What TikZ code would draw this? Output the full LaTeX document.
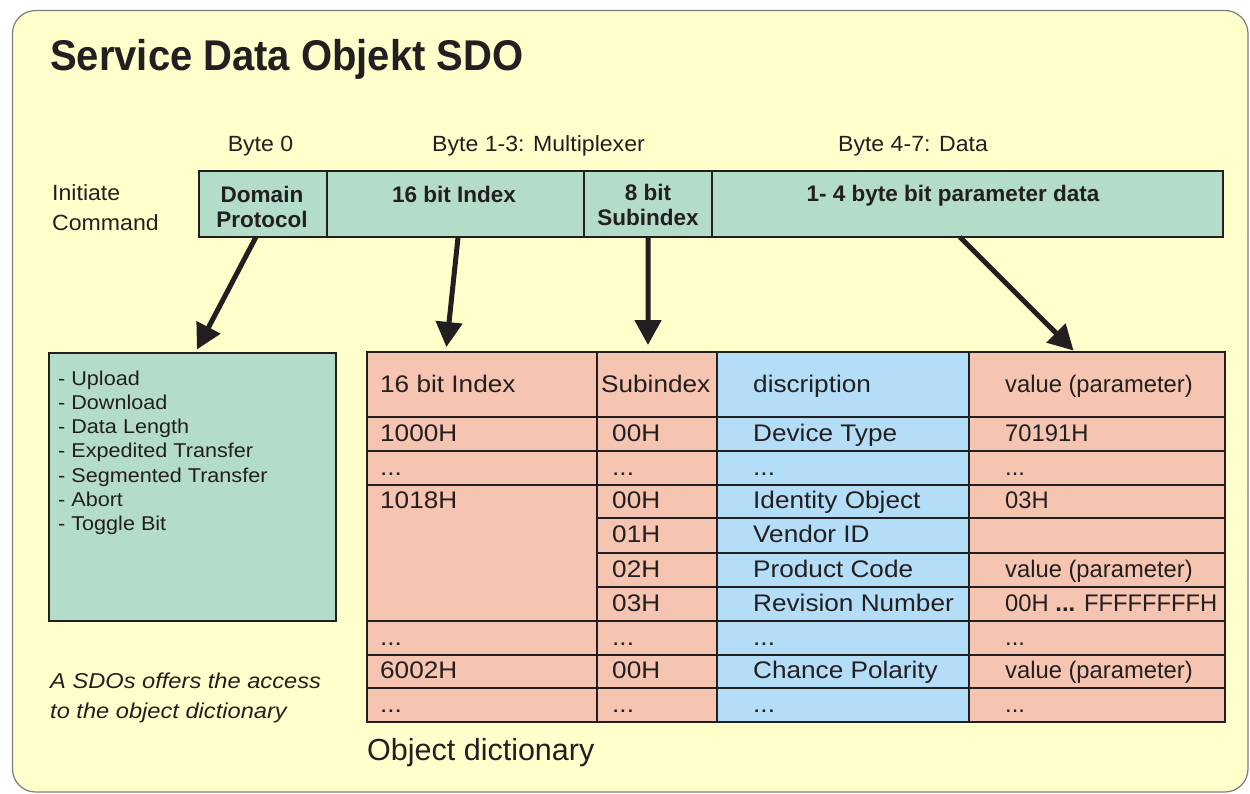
\documentclass[tikz,border=0pt]{standalone}
\usepackage{fontspec}
\setmainfont{Liberation Sans}
\newfontfamily\titlefont[FakeStretch=0.93]{Liberation Sans}
\newfontfamily\widefont[FakeStretch=1.09]{Liberation Sans}
\newfontfamily\valfont[FakeStretch=0.99]{Liberation Sans}
\newfontfamily\lblfont[FakeStretch=1.05]{Liberation Sans}
\newfontfamily\itemfont[FakeStretch=1.08]{Liberation Sans}
\newfontfamily\notefont[FakeStretch=1.1]{Liberation Sans}
\usetikzlibrary{arrows.meta,calc}

\definecolor{paper}{RGB}{255,255,204}
\definecolor{frame}{RGB}{125,125,125}
\definecolor{ink}{RGB}{35,31,32}
\definecolor{mint}{RGB}{179,221,201}
\definecolor{salmon}{RGB}{246,197,177}
\definecolor{sky}{RGB}{180,221,247}

\tikzset{
  cellstyle/.style={draw=ink, line width=2.6pt, inner sep=0pt, outer sep=0pt},
  lbl/.style={inner sep=0pt, text=ink, anchor=base, font=\lblfont\fontsize{22}{26}\selectfont},
  head/.style={inner sep=0pt, text=ink, anchor=base, font=\bfseries\fontsize{22.5}{26}\selectfont},
  tab/.style={inner sep=0pt, text=ink, anchor=base west, font=\widefont\fontsize{24}{28}\selectfont},
  val/.style={inner sep=0pt, text=ink, anchor=base west, font=\valfont\fontsize{24}{28}\selectfont},
  item/.style={inner sep=0pt, text=ink, anchor=base west, font=\itemfont\fontsize{20}{24}\selectfont},
  note/.style={inner sep=0pt, text=ink, anchor=base west, font=\notefont\itshape\fontsize{21.5}{26}\selectfont},
  arr/.style={draw=ink, line width=5pt, -{Triangle[length=25pt,width=26pt]}},
}

% a filled, framed cell given by its corners (x1,y1) and (x2,y2)
\newcommand{\cellbox}[6]{%
  \node[cellstyle, fill=#6, anchor=north west,
        minimum width={(#4)-(#2)}, minimum height={(#5)-(#3)}] (#1) at (#2,#3) {};}

\begin{document}
\begin{tikzpicture}[x=1pt,y=-1pt]
\useasboundingbox (0,0) rectangle (1250,794);
\fill[white] (0,0) rectangle (1250,794);
\draw[frame, fill=paper, line width=1.2pt, rounded corners=23pt] (12.5,10.5) rectangle (1248,792);

% title
\node[anchor=base west, inner sep=0pt, text=ink,
      font=\titlefont\bfseries\fontsize{43}{50}\selectfont] (title) at (50,71) {Service Data Objekt SDO};

% byte ranges
\node[lbl] (b0) at (260.5,152) {Byte 0};
\node[lbl] (b13) at (538.5,152) {Byte 1-3: Multiplexer};
\node[lbl] (b47) at (913,152) {Byte 4-7: Data};
\node[lbl, anchor=base west] (init1) at (52,201) {Initiate};
\node[lbl, anchor=base west] (init2) at (52,231) {Command};

% command frame
\cellbox{dp}{199}{171}{327}{237}{mint}
\cellbox{idx}{327}{171}{584}{237}{mint}
\cellbox{sub}{584}{171}{712}{237}{mint}
\cellbox{dat}{712}{171}{1223}{237}{mint}
\node[head] (dpa) at (262,203) {Domain};
\node[head] (dpb) at (262,228) {Protocol};
\node[head] (idxt) at (454,203) {16 bit Index};
\node[head] (suba) at (648,201) {8 bit};
\node[head] (subb) at (648,226) {Subindex};
\node[head] (datt) at (953,202) {1- 4 byte bit parameter data};

% protocol commands
\cellbox{ops}{49}{353}{336}{621}{mint}
\node[item] (o1) at (58,385) {- Upload};
\node[item] (o2) at (58,409.3) {- Download};
\node[item] (o3) at (58,433.6) {- Data Length};
\node[item] (o4) at (58,457.9) {- Expedited Transfer};
\node[item] (o5) at (58,482.2) {- Segmented Transfer};
\node[item] (o6) at (58,506.5) {- Abort};
\node[item] (o7) at (58,530.8) {- Toggle Bit};

\node[note] (n1) at (50,688) {A SDOs offers the access};
\node[note] (n2) at (50,718.3) {to the object dictionary};

% object dictionary: header
\cellbox{h1}{367}{352}{597}{417}{salmon}
\cellbox{h2}{597}{352}{717}{417}{salmon}
\cellbox{h3}{717}{352}{969}{417}{sky}
\cellbox{h4}{969}{352}{1225}{417}{salmon}
% index column
\cellbox{a1}{367}{417}{597}{451}{salmon}
\cellbox{a2}{367}{451}{597}{485}{salmon}
\cellbox{a3}{367}{485}{597}{621}{salmon}
\cellbox{a7}{367}{621}{597}{655}{salmon}
\cellbox{a8}{367}{655}{597}{688}{salmon}
\cellbox{a9}{367}{688}{597}{722}{salmon}
% subindex column
\cellbox{s1}{597}{417}{717}{451}{salmon}
\cellbox{s2}{597}{451}{717}{485}{salmon}
\cellbox{s3}{597}{485}{717}{518}{salmon}
\cellbox{s4}{597}{518}{717}{553}{salmon}
\cellbox{s5}{597}{553}{717}{587}{salmon}
\cellbox{s6}{597}{587}{717}{621}{salmon}
\cellbox{s7}{597}{621}{717}{655}{salmon}
\cellbox{s8}{597}{655}{717}{688}{salmon}
\cellbox{s9}{597}{688}{717}{722}{salmon}
% description column
\cellbox{d1}{717}{417}{969}{451}{sky}
\cellbox{d2}{717}{451}{969}{485}{sky}
\cellbox{d3}{717}{485}{969}{518}{sky}
\cellbox{d4}{717}{518}{969}{553}{sky}
\cellbox{d5}{717}{553}{969}{587}{sky}
\cellbox{d6}{717}{587}{969}{621}{sky}
\cellbox{d7}{717}{621}{969}{655}{sky}
\cellbox{d8}{717}{655}{969}{688}{sky}
\cellbox{d9}{717}{688}{969}{722}{sky}
% value column
\cellbox{v1}{969}{417}{1225}{451}{salmon}
\cellbox{v2}{969}{451}{1225}{485}{salmon}
\cellbox{v3}{969}{485}{1225}{518}{salmon}
\cellbox{v4}{969}{518}{1225}{553}{salmon}
\cellbox{v5}{969}{553}{1225}{587}{salmon}
\cellbox{v6}{969}{587}{1225}{621}{salmon}
\cellbox{v7}{969}{621}{1225}{655}{salmon}
\cellbox{v8}{969}{655}{1225}{688}{salmon}
\cellbox{v9}{969}{688}{1225}{722}{salmon}

% table texts
\node[tab] (th1) at (380,392) {16 bit Index};
\node[tab] (th2) at (601,392) {Subindex};
\node[tab] (th3) at (753,392) {discription};
\node[val] (th4) at (1005,392) {value (parameter)};

\node[tab] (ta1) at (380,441) {1000H};
\node[tab] (ts1) at (612,441) {00H};
\node[tab] (td1) at (753,441) {Device Type};
\node[val] (tv1) at (1005,441) {70191H};

\node[tab] (ta2) at (380,475) {...};
\node[tab] (ts2) at (612,475) {...};
\node[tab] (td2) at (753,475) {...};
\node[val] (tv2) at (1005,475) {...};

\node[tab] (ta3) at (380,508.5) {1018H};
\node[tab] (ts3) at (612,508.5) {00H};
\node[tab] (td3) at (753,508.5) {Identity Object};
\node[val] (tv3) at (1005,508.5) {03H};

\node[tab] (ts4) at (612,542.5) {01H};
\node[tab] (td4) at (753,542.5) {Vendor ID};

\node[tab] (ts5) at (612,577) {02H};
\node[tab] (td5) at (753,577) {Product Code};
\node[val] (tv5) at (1005,577) {value (parameter)};

\node[tab] (ts6) at (612,611) {03H};
\node[tab] (td6) at (753,611) {Revision Number};
\node[val] (tv6) at (1005,611) {00H \textbf{...} FFFFFFFFH};

\node[tab] (ta7) at (380,645) {...};
\node[tab] (ts7) at (612,645) {...};
\node[tab] (td7) at (753,645) {...};
\node[val] (tv7) at (1005,645) {...};

\node[tab] (ta8) at (380,678.5) {6002H};
\node[tab] (ts8) at (612,678.5) {00H};
\node[tab] (td8) at (753,678.5) {Chance Polarity};
\node[val] (tv8) at (1005,678.5) {value (parameter)};

\node[tab] (ta9) at (380,712) {...};
\node[tab] (ts9) at (612,712) {...};
\node[tab] (td9) at (753,712) {...};
\node[val] (tv9) at (1005,712) {...};

\node[inner sep=0pt, text=ink, anchor=base west, font=\fontsize{30.5}{34}\selectfont] (odcap) at (367,760) {Object dictionary};

% connectors from the command fields to their targets
\draw[arr, shorten >=4pt] ($(dp.south west)!0.445!(dp.south east)$) -- ($(ops.north west)!0.509!(ops.north east)$);
\draw[arr, shorten >=5pt] ($(idx.south west)!0.51!(idx.south east)$) -- ($(h1.north west)!0.343!(h1.north east)$);
\draw[arr, shorten >=7pt] (sub.south) -- ($(h2.north west)!0.425!(h2.north east)$);
\draw[arr, shorten >=2pt] ($(dat.south west)!0.485!(dat.south east)$) -- ($(h4.north west)!0.414!(h4.north east)$);
\end{tikzpicture}
\end{document}
